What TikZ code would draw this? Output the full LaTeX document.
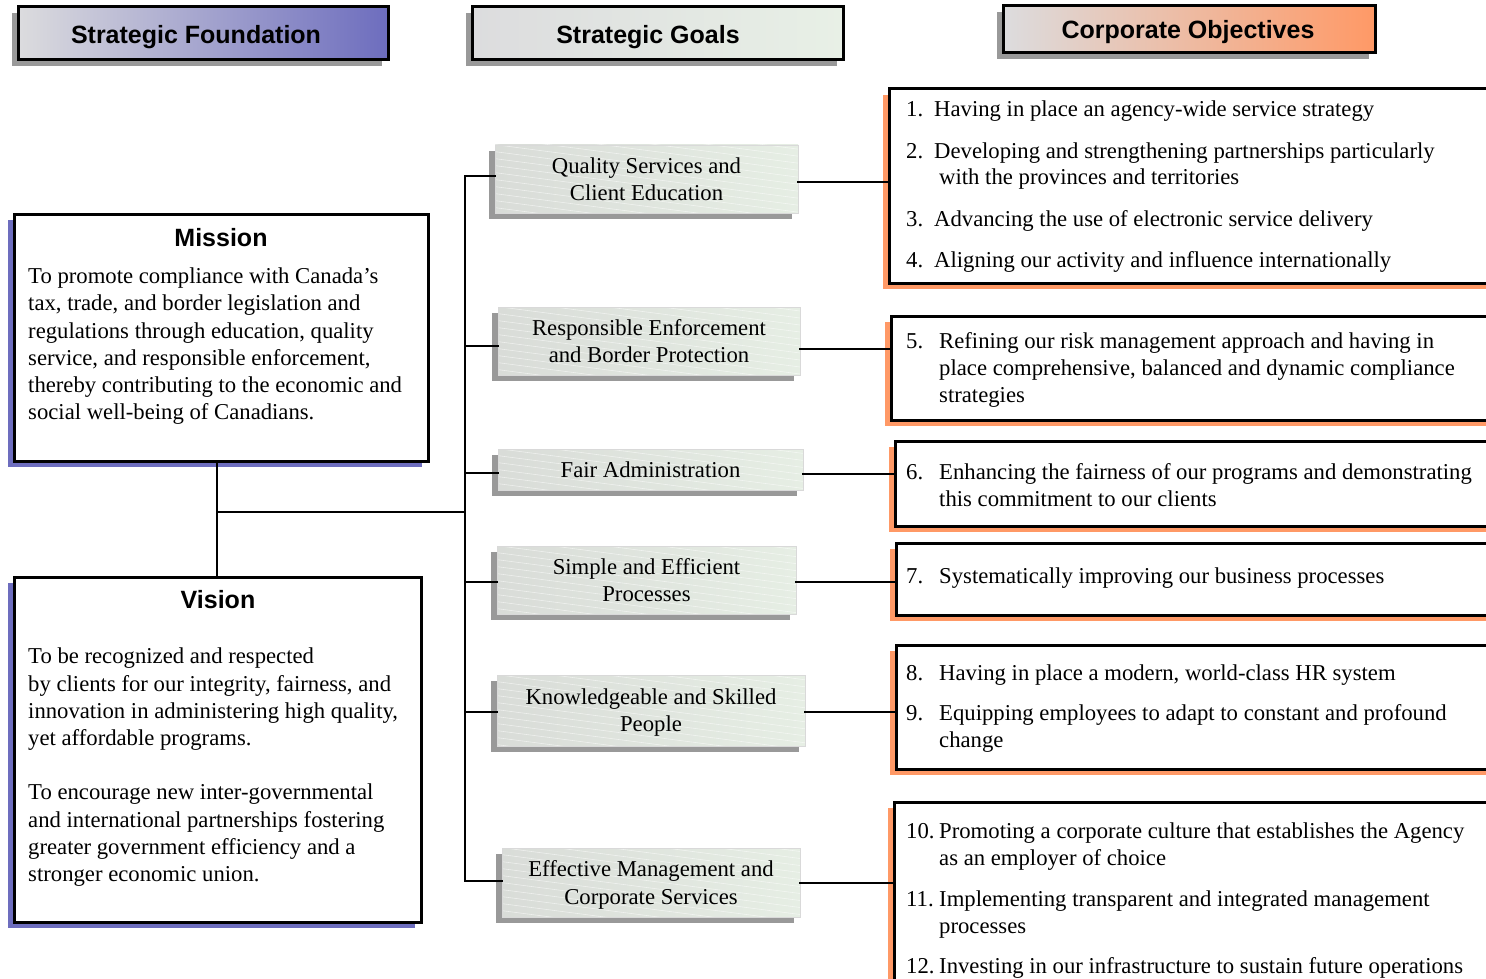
\documentclass[tikz,border=0pt]{standalone}
\usepackage{fontspec}
\setmainfont{Liberation Serif}
\newfontfamily\hdfont{Liberation Sans}
\usetikzlibrary{shadows,calc}
\definecolor{purp}{HTML}{6D6DBE}
\definecolor{orng}{HTML}{FF9966}
\definecolor{shd}{HTML}{999999}
\definecolor{hgl}{HTML}{DCDCDE}
\definecolor{grn}{HTML}{E8F0E6}
\definecolor{gl}{HTML}{D9DCD8}
\definecolor{gr}{HTML}{E6EEE4}
\newcommand\bodyfont{\fontsize{22.7}{27.2}\selectfont}
\newcommand\nodepth[1]{\raisebox{0pt}[\height][0pt]{#1}}
\begin{document}
\begin{tikzpicture}[x=1pt,y=-1pt,
  hdr/.style={draw=black, line width=3pt, inner sep=0,
    general shadow={fill=shd, shadow xshift=-6pt, shadow yshift=-6pt}},
  hdtext/.style={font=\hdfont\bfseries\fontsize{25}{30}\selectfont, anchor=base, inner sep=0},
  goal/.style={inner sep=0, left color=gl, right color=gr, draw=black!15, line width=0.8pt,
    font=\bodyfont, align=center,
    general shadow={fill=shd, shadow xshift=-6pt, shadow yshift=-6pt},
    path picture={\foreach \k in {-120,-113,...,110}
      \draw[white,opacity=.55,line width=.6pt] ($(path picture bounding box.north west)+(-5,\k)$) -- ++(330,43);}},
  obj/.style={draw=black, line width=3pt, fill=white, inner sep=0,
    general shadow={fill=orng, shadow xshift=-6pt, shadow yshift=-6pt}},
  fbox/.style={draw=black, line width=3pt, fill=white, inner sep=0,
    general shadow={fill=purp, shadow xshift=-6pt, shadow yshift=-6pt}},
  body/.style={font=\bodyfont, anchor=base west, inner sep=0},
  conn/.style={line width=2.5pt, line cap=rect}
]
\useasboundingbox (0,0) rectangle (1486,979);
\clip (0,0) rectangle (1486,979);

% headers
\node[hdr, left color=hgl, right color=purp, minimum width=370, minimum height=53] (h1) at (203,33.5) {};
\node[hdr, left color=hgl, right color=grn, minimum width=371, minimum height=53] (h2) at (657.5,33.5) {};
\node[hdr, left color=hgl, right color=orng, minimum width=372, minimum height=47] (h3) at (1189,29.5) {};
\node[hdtext] (h1t) at (196,44) {Strategic Foundation};
\node[hdtext] (h2t) at (648,44) {Strategic Goals};
\node[hdtext] (h3t) at (1188,39) {Corporate Objectives};

% mission / vision
\node[fbox, minimum width=414, minimum height=247] (mission) at (221,337.5) {};
\node[fbox, minimum width=407, minimum height=345] (vision) at (217.5,749.5) {};
\node[hdtext] (mt) at (221,246) {Mission};
\node[hdtext] (vt) at (218,608) {Vision};
\node[body] (m1) at (28,283) {To promote compliance with Canada’s};
\node[body] (m2) at (28,310) {tax, trade, and border legislation and};
\node[body] (m3) at (28,338) {regulations through education, quality};
\node[body] (m4) at (28,365) {service, and responsible enforcement,};
\node[body] (m5) at (28,392) {thereby contributing to the economic and};
\node[body] (m6) at (28,419) {social well-being of Canadians.};
\node[body] (v1) at (28,663) {To be recognized and respected};
\node[body] (v2) at (28,691) {by clients for our integrity, fairness, and};
\node[body] (v3) at (28,718) {innovation in administering high quality,};
\node[body] (v4) at (28,745) {yet affordable programs.};
\node[body] (v5) at (28,799) {To encourage new inter-governmental};
\node[body] (v6) at (28,827) {and international partnerships fostering};
\node[body] (v7) at (28,854) {greater government efficiency and a};
\node[body] (v8) at (28,881) {stronger economic union.};

% goals
\node[goal, minimum width=303, minimum height=68] (g1) at (646.5,179) {Quality Services and\\Client Education};
\node[goal, minimum width=302, minimum height=68] (g2) at (649,341) {Responsible Enforcement\\and Border Protection};
\node[goal, minimum width=305, minimum height=41] (g3) at (650.5,469.5) {Fair Administration};
\node[goal, minimum width=299, minimum height=68] (g4) at (646.5,580) {Simple and Efficient\\Processes};
\node[goal, minimum width=308, minimum height=71] (g5) at (651,710.5) {Knowledgeable and Skilled\\\nodepth{People}};
\node[goal, minimum width=298, minimum height=69] (g6) at (651,882.5) {Effective Management and\\\nodepth{Corporate Services}};

% objectives
\node[obj, minimum width=621, minimum height=194] (o1) at (1199.5,186) {};
\node[obj, minimum width=619, minimum height=104] (o2) at (1200.5,368) {};
\node[obj, minimum width=615, minimum height=85] (o3) at (1202.5,483.5) {};
\node[obj, minimum width=614, minimum height=72] (o4) at (1203,579) {};
\node[obj, minimum width=614, minimum height=124] (o5) at (1203,707) {};
\node[obj, minimum width=616, minimum height=208] (o6) at (1202,906) {};

\node[body] (n1) at (906,117) {1.};
\node[body] (x1) at (934,117) {Having in place an agency-wide service strategy};
\node[body] (n2) at (906,158) {2.};
\node[body] (x2) at (934,158) {Developing and strengthening partnerships particularly};
\node[body] (x2b) at (939,185) {with the provinces and territories};
\node[body] (n3) at (906,226) {3.};
\node[body] (x3) at (934,226) {Advancing the use of electronic service delivery};
\node[body] (n4) at (906,267) {4.};
\node[body] (x4) at (934,267) {Aligning our activity and influence internationally};

\node[body] (n5) at (906,348) {5.};
\node[body] (x5) at (939,348) {Refining our risk management approach and having in};
\node[body] (x5b) at (939,375) {place comprehensive, balanced and dynamic compliance};
\node[body] (x5c) at (939,402) {strategies};

\node[body] (n6) at (906,479) {6.};
\node[body] (x6) at (939,479) {Enhancing the fairness of our programs and demonstrating};
\node[body] (x6b) at (939,506) {this commitment to our clients};

\node[body] (n7) at (906,583) {7.};
\node[body] (x7) at (939,583) {Systematically improving our business processes};

\node[body] (n8) at (906,680) {8.};
\node[body] (x8) at (939,680) {Having in place a modern, world-class HR system};
\node[body] (n9) at (906,720) {9.};
\node[body] (x9) at (939,720) {Equipping employees to adapt to constant and profound};
\node[body] (x9b) at (939,747) {change};

\node[body] (n10) at (906,838) {10.};
\node[body] (x10) at (939,838) {Promoting a corporate culture that establishes the Agency};
\node[body] (x10b) at (939,865) {as an employer of choice};
\node[body] (n11) at (906,906) {11.};
\node[body] (x11) at (939,906) {Implementing transparent and integrated management};
\node[body] (x11b) at (939,933) {processes};
\node[body] (n12) at (906,973) {12.};
\node[body] (x12) at (939,973) {Investing in our infrastructure to sustain future operations};

% connectors
\coordinate (t1) at (465,176);
\coordinate (t2) at (465,346);
\coordinate (t3) at (465,473);
\coordinate (t4) at (465,582);
\coordinate (t5) at (465,712);
\coordinate (t6) at (465,881);
\coordinate (mv) at (217,512);
\draw[conn] (t1) -- (t6);
\draw[conn] (t1) -- (t1 -| g1.west);
\draw[conn] (t2) -- (t2 -| g2.west);
\draw[conn] (t3) -- (t3 -| g3.west);
\draw[conn] (t4) -- (t4 -| g4.west);
\draw[conn] (t5) -- (t5 -| g5.west);
\draw[conn] (t6) -- (t6 -| g6.west);
\draw[conn] (mission.south -| mv) -- (vision.north -| mv);
\draw[conn] (mv) -- (mv -| t1);

\coordinate (r1) at (0,182);
\coordinate (r2) at (0,349);
\coordinate (r3) at (0,474);
\coordinate (r4) at (0,582);
\coordinate (r5) at (0,712);
\coordinate (r6) at (0,883);
\draw[conn] (g1.east |- r1) -- (o1.west |- r1);
\draw[conn] (g2.east |- r2) -- (o2.west |- r2);
\draw[conn] (g3.east |- r3) -- (o3.west |- r3);
\draw[conn] (g4.east |- r4) -- (o4.west |- r4);
\draw[conn] (g5.east |- r5) -- (o5.west |- r5);
\draw[conn] (g6.east |- r6) -- (o6.west |- r6);
\end{tikzpicture}
\end{document}
